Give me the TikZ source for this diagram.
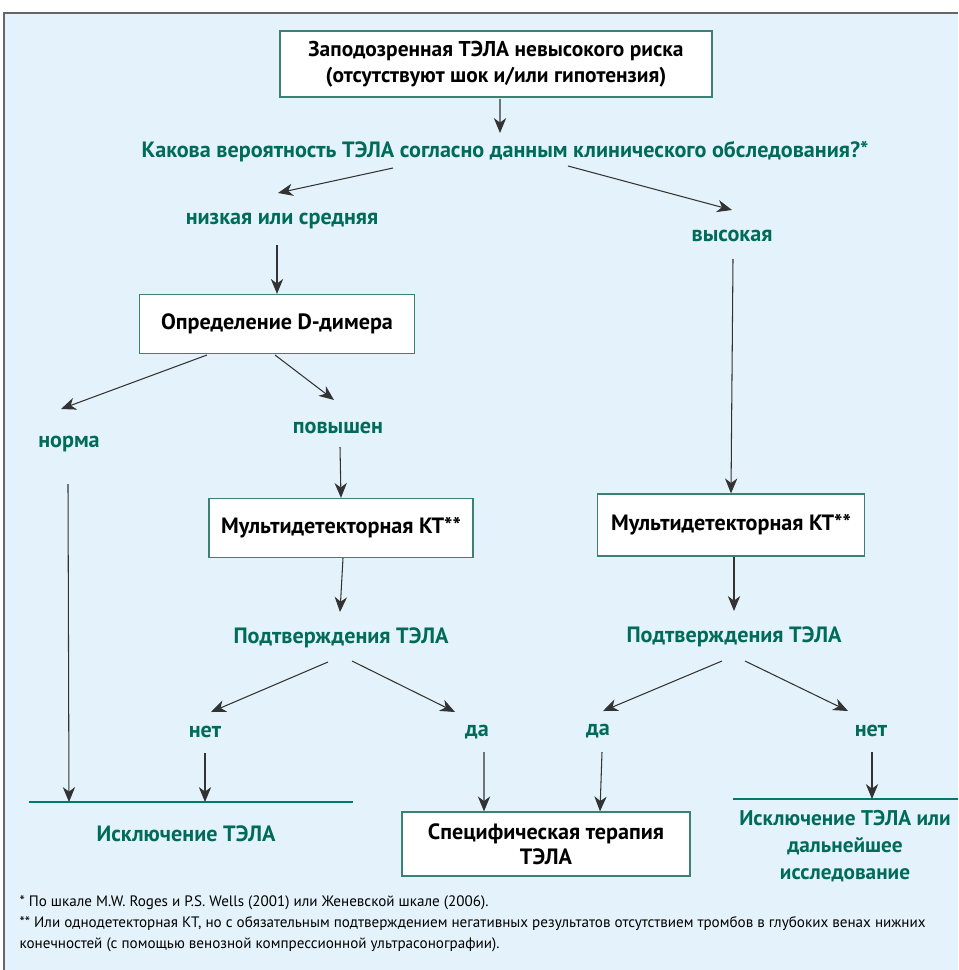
\documentclass[tikz,border=0pt]{standalone}
\usepackage{fontspec}
\setmainfont{PT Sans}
\usetikzlibrary{positioning,arrows.meta}
\definecolor{panel}{RGB}{228,243,251}
\definecolor{tela}{RGB}{0,108,88}
\definecolor{boxline}{RGB}{60,130,115}
\tikzstyle{box}=[draw=boxline,fill=white,line width=0.7pt,align=center,inner sep=2pt,
  font=\bfseries\fontsize{12.6}{14.5}\selectfont]
\tikzstyle{answer}=[text=tela,align=center,inner sep=1pt,
  font=\bfseries\fontsize{12.6}{15.4}\selectfont]
\tikzstyle{outcome}=[-,draw=tela!90!cyan,line width=1.2pt]

\begin{document}
\begin{tikzpicture}[on grid,->,>={Stealth[length=8.5pt,width=7pt,inset=2.6pt]},
    draw=black!80,line width=0.6pt]
  \useasboundingbox (0,0) rectangle (19.16,-19.40);
  \fill[white] (0,0) rectangle (19.16,-19.40);
  \fill[panel] (0.08,-0.26) rectangle (19.16,-19.40);
  \draw[-,black!60,line width=0.8pt] (0.08,-19.40) -- (0.08,-0.26) -- (19.16,-0.26);

  % top of the tree
  \node[box, font=\bfseries\fontsize{12.2}{14.5}\selectfont, minimum width=8.64cm, minimum height=1.32cm] (start) at (9.92,-1.28)
    {Заподозренная ТЭЛА невысокого риска\\(отсутствуют шок и/или гипотензия)};
  \node[answer, below right=1.76cm and 0.18cm of start] (question)
    {Какова вероятность ТЭЛА согласно данным клинического обследования?*};
  \node[answer, below left=1.38cm and 4.46cm of question] (low) {низкая или средняя};
  \node[answer, below right=1.68cm and 4.54cm of question] (high) {высокая};

  \draw ([shift={(0.08,-0.70)}]start.center) -- ([shift={(-0.10,0.38)}]question.center);
  \draw ([shift={(-2.24,-0.32)}]question.center) -- ([shift={(-0.08,0.56)}]low.center);
  \draw ([shift={(1.26,-0.28)}]question.center) -- ([shift={(0,0.52)}]high.center);

  % low or intermediate probability
  \node[box, minimum width=5.5cm, minimum height=1.18cm, below left=2.06cm and 0.10cm of low] (ddimer)
    {Определение D-димера};
  \node[answer, below left=2.40cm and 4.16cm of ddimer] (norm) {норма};
  \node[answer, below right=2.08cm and 1.22cm of ddimer] (elevated) {повышен};
  \node[box, minimum width=5.28cm, minimum height=1.18cm, below right=2.0cm and 0.06cm of elevated] (ctLeft)
    {Мультидетекторная КТ**};
  \node[answer, below=2.2cm of ctLeft] (confLeft) {Подтверждения ТЭЛА};
  \node[answer, below left=1.88cm and 2.72cm of confLeft] (noLeft) {нет};
  \node[answer, below right=1.88cm and 2.72cm of confLeft] (yesLeft) {да};

  \draw ([shift={(-0.10,-0.48)}]low.center) -- (ddimer.north);
  \draw ([shift={(-1.40,-0.62)}]ddimer.center) -- ([shift={(-0.16,0.70)}]norm.center);
  \draw ([shift={(-0.04,-0.62)}]ddimer.center) -- ([shift={(-0.08,0.56)}]elevated.center);
  \draw ([shift={(0.04,-0.38)}]elevated.center) -- (ctLeft.north);
  \draw ([xshift=0.04cm]ctLeft.south) -- ([shift={(-0.02,0.52)}]confLeft.center);
  \draw ([shift={(-0.26,-0.48)}]confLeft.center) -- ([shift={(0.12,0.40)}]noLeft.center);
  \draw ([shift={(0.22,-0.46)}]confLeft.center) -- ([shift={(-0.44,0.40)}]yesLeft.center);

  % exclusion on the left
  \coordinate (exclLineA) at (0.58,-16.04);
  \coordinate (exclLineB) at (7.06,-16.04);
  \draw[outcome] (exclLineA) -- (exclLineB);
  \node[answer, below left=2.04cm and 0.38cm of noLeft] (exclLeft) {Исключение ТЭЛА};
  \draw ([shift={(-0.02,-0.80)}]norm.center) -- (norm |- exclLineA);
  \draw ([shift={(0,-0.42)}]noLeft.center) -- (noLeft |- exclLineA);

  % high probability
  \node[box, minimum width=5.34cm, minimum height=1.24cm, below left=5.78cm and 0.02cm of high] (ctRight)
    {Мультидетекторная КТ**};
  \node[answer, below right=2.24cm and 0.06cm of ctRight] (confRight) {Подтверждения ТЭЛА};
  \node[answer, below left=1.88cm and 2.72cm of confRight] (yesRight) {да};
  \node[answer, below right=1.88cm and 2.74cm of confRight] (noRight) {нет};

  \draw ([shift={(0.02,-0.46)}]high.center) -- (ctRight.north);
  \draw ([xshift=0.06cm]ctRight.south) -- ([shift={(0,0.52)}]confRight.center);
  \draw ([shift={(-0.24,-0.48)}]confRight.center) -- ([shift={(0.10,0.40)}]yesRight.center);
  \draw ([shift={(0.22,-0.48)}]confRight.center) -- ([shift={(-0.46,0.40)}]noRight.center);

  % outcomes at the bottom
  \node[box, minimum width=5.76cm, minimum height=1.28cm, below right=2.24cm and 1.38cm of yesLeft] (therapy)
    {Специфическая терапия\\ТЭЛА};
  \draw ([shift={(0.14,-0.40)}]yesLeft.center) -- ([xshift=-1.24cm]therapy.north);
  \draw ([shift={(0.08,-0.42)}]yesRight.center) -- ([xshift=1.08cm]therapy.north);

  \coordinate (furtherLineA) at (14.66,-15.98);
  \coordinate (furtherLineB) at (19.16,-15.98);
  \draw[outcome] (furtherLineA) -- (furtherLineB);
  \node[answer, font=\bfseries\fontsize{12.1}{15.4}\selectfont, below left=2.30cm and 0.52cm of noRight] (exclRight)
    {Исключение ТЭЛА или\\дальнейшее\\исследование};
  \draw ([shift={(0.02,-0.42)}]noRight.center) -- ([xshift=0.02cm]noRight |- furtherLineA);

  % footnotes
  \node[anchor=north west, align=left, inner sep=0pt, font=\fontsize{8.6}{11.9}\selectfont] (notes) at (0.38,-17.90)
    {* По шкале M.W. Roges и P.S. Wells (2001) или Женевской шкале (2006).\\
     ** Или однодетекторная КТ, но с обязательным подтверждением негативных результатов отсутствием тромбов в глубоких венах нижних\\
     конечностей (с помощью венозной компрессионной ультрасонографии).};
\end{tikzpicture}
\end{document}
